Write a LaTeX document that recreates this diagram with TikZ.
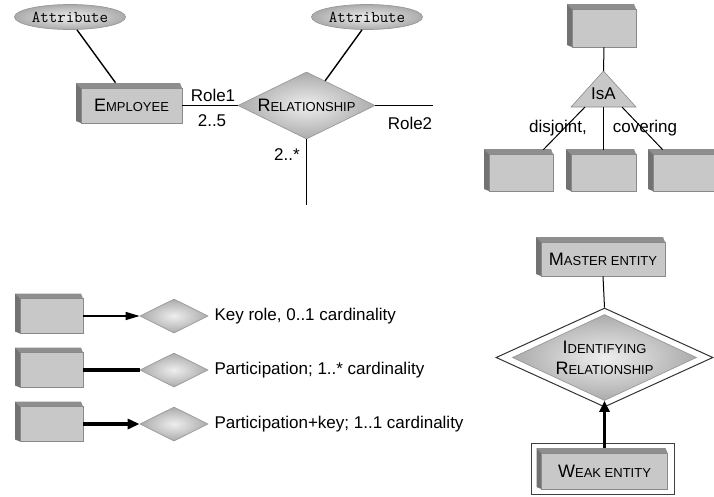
\documentclass[tikz,border=0pt]{standalone}
\usepackage{fontspec}
\setmainfont{Liberation Sans}
\usetikzlibrary{shapes.geometric,arrows.meta}

\definecolor{face}{HTML}{C8C8C8}
\definecolor{facedraw}{HTML}{8A8A8A}
\definecolor{sidetop}{HTML}{8E8E8E}
\definecolor{sideleft}{HTML}{727272}
\definecolor{rhomblight}{HTML}{EEEEEE}
\definecolor{rhombdark}{HTML}{ABABAB}
\definecolor{rimgray}{HTML}{999999}

% label text and fake small capitals
\newcommand\lblfont{\fontsize{17}{20}\selectfont}
\newcommand\smallcaps[2]{{\fontsize{18}{21}\selectfont #1}{\fontsize{13}{21}\selectfont #2}}

% entity box with a raised 3D edge on top and left
% #1 name, #2 cx, #3 cy, #4 width, #5 height, #6 text
\newcommand\solidbox[6]{%
  \pgfmathsetmacro\eBL{#2-#4/2}%
  \pgfmathsetmacro\eBR{#2+#4/2}%
  \pgfmathsetmacro\eBT{#3-#5/2}%
  \pgfmathsetmacro\eBB{#3+#5/2}%
  \fill[sidetop] ({\eBL-5},{\eBT-5}) -- ({\eBR-2},{\eBT-5}) -- (\eBR,\eBT) -- (\eBL,\eBT) -- cycle;
  \fill[sideleft] ({\eBL-5},{\eBT-5}) -- (\eBL,\eBT) -- (\eBL,\eBB) -- ({\eBL-5},{\eBB-2}) -- cycle;
  \node[entity, minimum width=#4pt, minimum height=#5pt] (#1) at (#2,#3) {#6};
}

\tikzset{
  conn/.style={line width=1.4pt, black},
  thinconn/.style={line width=1pt, black},
  heavy/.style={line width=3.8pt, black},
  entity/.style={draw=facedraw, line width=0.6pt, fill=face, inner sep=0pt},
  attr/.style={ellipse, draw=rimgray, line width=0.7pt, inner sep=0pt,
    minimum width=111pt, minimum height=25pt,
    inner color=rhomblight, outer color=rhombdark,
    font=\ttfamily\fontsize{16.5}{18}\selectfont},
  rel/.style={diamond, aspect=2.05, inner sep=0pt, draw=rimgray, line width=0.7pt,
    inner color=rhomblight, outer color=rhombdark},
  isashape/.style={fill=face, draw=facedraw, line width=0.6pt},
}

\begin{document}
\begin{tikzpicture}[x=1pt, y=-1pt, every node/.style={font=\lblfont}]
\clip (0,0) rectangle (714,496);
\fill[white] (0,0) rectangle (714,496);

% ---------- entity / relationship with attributes ----------
\node[attr] (a1) at (70,17) {Attribute};
\node[attr] (a2) at (367,17) {Attribute};
\solidbox{emp}{131.5}{105.5}{101}{35}{\smallcaps{E}{MPLOYEE}}
\node[rel, minimum width=137pt, minimum height=67pt] (rel) at (306.5,105.5) {\smallcaps{R}{ELATIONSHIP}};
\coordinate (r2end) at (433,105.5);
\coordinate (r3end) at (306.5,205);

\draw[conn] ([xshift=7pt]a1.south) -- ([xshift=-16pt,yshift=5pt]emp.north);
\draw[conn] ([xshift=-5pt]a2.south) -- (rel.53);
\draw[conn] (emp.east) -- (rel.west);
\draw[conn] (rel.east) -- (r2end);
\draw[conn] (rel.south) -- (r3end);

\node (role1) at (213,95) {Role1};
\node (card1) at (212,121) {2..5};
\node (role2) at (410,123) {Role2};
\node (card3) at (287,155) {2..*};

% ---------- generalisation ----------
\solidbox{sup}{604}{28}{64}{38}{}
\coordinate (isatop) at (603.5,71);
\coordinate (isabl) at (571,107);
\coordinate (isabr) at (636,107);
\coordinate (isaL) at (585,107);
\coordinate (isaM) at (603.5,107);
\coordinate (isaR) at (622,107);
\draw[isashape] (isatop) -- (isabr) -- (isabl) -- cycle;
\node (isa) at (603.5,94) {IsA};
\solidbox{subA}{521}{172.5}{64}{37}{}
\solidbox{subB}{603.5}{172.5}{65}{37}{}
\solidbox{subC}{685}{172.5}{64}{37}{}

\draw[thinconn] (sup.south) -- (isatop);
\draw[thinconn] (isaL) -- ([xshift=-10pt,yshift=4pt]subA.north east);
\draw[thinconn] (isaM) -- ([yshift=4pt]subB.north);
\draw[thinconn] (isaR) -- ([xshift=10pt,yshift=4pt]subC.north west);
\node (disj) at (558,128) {disjoint,};
\node (cover) at (645,128) {covering};

% ---------- role notations ----------
\solidbox{k1}{51.5}{316}{63}{35}{}
\node[rel, minimum width=68pt, minimum height=34pt] (d1) at (174,316) {};
\node[anchor=west] (t1) at (211,316) {Key role, 0..1 cardinality};
\draw[conn, -{Triangle[length=14pt,width=8pt]}] (k1.east) -- (d1.west);

\solidbox{k2}{51.5}{370}{63}{35}{}
\node[rel, minimum width=68pt, minimum height=34pt] (d2) at (174,370) {};
\node[anchor=west] (t2) at (211,370) {Participation; 1..* cardinality};
\draw[heavy] (k2.east) -- (d2.west);

\solidbox{k3}{51.5}{424}{63}{35}{}
\node[rel, minimum width=68pt, minimum height=34pt] (d3) at (174,424) {};
\node[anchor=west] (t3) at (211,424) {Participation+key; 1..1 cardinality};
\draw[heavy, -{Triangle[length=12pt,width=10pt]}] (k3.east) -- (d3.west);

% ---------- weak entity ----------
\solidbox{master}{603}{259}{124}{34}{\smallcaps{M}{ASTER ENTITY}}
\node[diamond, draw=black!80, line width=1pt, fill=white, inner sep=0pt,
      minimum width=217pt, minimum height=99pt] (idrout) at (604.5,357.5) {};
\node[rel, minimum width=184pt, minimum height=86pt, align=center,
      font=\fontsize{18}{21}\selectfont] (idr) at (604.5,357.5)
      {\smallcaps{I}{DENTIFYING}\\\smallcaps{R}{ELATIONSHIP}};
\draw[thinconn] (master.south) -- (idrout.north);

\node[draw=black!75, line width=0.8pt, minimum width=143pt, minimum height=51pt] (wkframe) at (602.5,468.5) {};
\solidbox{wk}{604.5}{471}{126}{36}{\smallcaps{W}{EAK ENTITY}}
\draw[heavy, -{Triangle[length=11pt,width=10pt]}] ([yshift=5pt]wk.north) -- (idr.south);
\end{tikzpicture}
\end{document}
